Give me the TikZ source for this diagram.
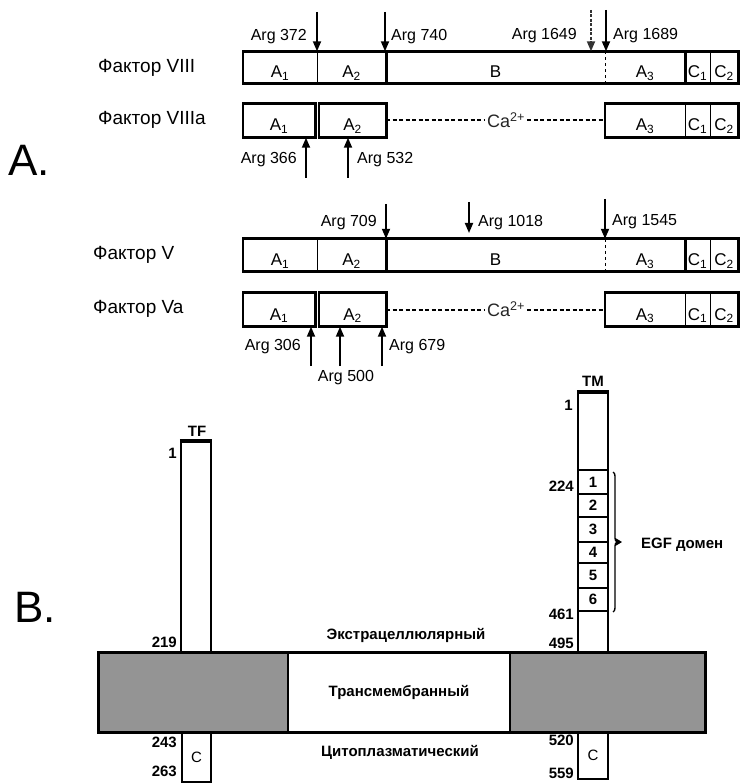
\documentclass[tikz,border=0pt]{standalone}
\usepackage{fontspec}
\setmainfont{Liberation Sans}
\usetikzlibrary{positioning,arrows.meta,fit,decorations.pathreplacing}

\begin{document}
\begin{tikzpicture}[
  x=1pt, y=-1pt,
  every node/.style={font=\fontsize{16}{18}\selectfont, inner sep=1pt},
  fac/.style={anchor=west, font=\fontsize{19}{22}\selectfont},
  big/.style={font=\fontsize{44}{48}\selectfont},
  dom/.style={inner sep=0, minimum height=32pt, text height=21pt, text depth=0pt,
    font=\fontsize{17}{19}\selectfont},
  actdom/.style={dom, minimum height=34pt},
  frame/.style={draw=black, line width=2.6pt, inner sep=0},
  div/.style={line width=1.4pt},
  ca/.style={line width=2pt, dash pattern=on 4pt off 2.5pt},
  arr/.style={-{Triangle[length=10pt,width=8pt]}, line width=1.8pt},
  num/.style={anchor=east, font=\bfseries\fontsize{15}{17}\selectfont},
  memb/.style={font=\bfseries\fontsize{15}{17}\selectfont},
  stalk/.style={draw=black, fill=white, line width=2.2pt, minimum width=30pt, inner sep=0,
    font=\bfseries\fontsize{15}{17}\selectfont},
  lipid/.style={fill=black!42, inner sep=0, minimum height=79pt},
  brc/.style={decorate, decoration={brace, amplitude=4pt}, line width=1.4pt}
]
  \useasboundingbox (0,0) rectangle (739,783);

  % Panel letters
  \node[big] (pa) at (29,160) {A.};
  \node[big] (pb) at (35,607) {B.};

  % Factor names
  \node[fac] (n8) at (97,68) {Фактор VIII};
  \node[fac] (n8a) at (97,120) {Фактор VIIIa};
  \node[fac] (n5) at (92,255) {Фактор V};
  \node[fac] (n5a) at (92,309) {Фактор Va};

  % Native chains (VIII and V)
  \foreach \f/\yc in {8/67.5, 5/255} {
    \foreach \n/\xa/\xb/\t in {a1/243/317/A\textsubscript{1}, a2/317/386/A\textsubscript{2},
        b/386/605/B, a3/605/685/A\textsubscript{3}, c1/685/710/C\textsubscript{1},
        c2/710/738/C\textsubscript{2}}
      \node[dom, minimum width={(\xb-\xa)*1pt}] (f\f\n) at ({(\xa+\xb)/2},\yc) {\t};
    \node[frame, fit=(f\f a1)(f\f c2)] {};
    \foreach \n in {a1,c1} \draw[div] (f\f\n.north east) -- (f\f\n.south east);
    \foreach \n in {a2,a3} \draw[frame] (f\f\n.north east) -- (f\f\n.south east);
    \draw[div, dashed] (f\f b.north east) -- (f\f b.south east);
  }

  % Activated chains (VIIIa and Va)
  \foreach \f/\yc in {8/120.5, 5/309.5} {
    \foreach \n/\xa/\xb/\t in {a1/243/315/A\textsubscript{1}, a2/319/386/A\textsubscript{2},
        a3/605/685/A\textsubscript{3}, c1/685/710/C\textsubscript{1},
        c2/710/738/C\textsubscript{2}}
      \node[actdom, minimum width={(\xb-\xa)*1pt}] (fa\f\n) at ({(\xa+\xb)/2},\yc) {\t};
    \node[frame, fit=(fa\f a1)] {};
    \node[frame, fit=(fa\f a2)] {};
    \node[frame, fit=(fa\f a3)(fa\f c2)] {};
    \foreach \n in {a3,c1} \draw[div] (fa\f\n.north east) -- (fa\f\n.south east);
    \node[fill=white, inner sep=2pt, text=black!85, font=\fontsize{18}{20}\selectfont]
      (ca\f) at (506,\yc) {Ca\textsuperscript{2+}};
    \draw[ca] (fa\f a2.east) -- (ca\f.west);
    \draw[ca] (ca\f.east) -- (fa\f a3.west);
  }

  % Cleavage sites, factor VIII
  \coordinate (t372) at (317,12);
  \coordinate (t740) at (385,12);
  \coordinate (t1649) at (591,10);
  \coordinate (t1689) at (606,10);
  \draw[arr] (t372) -- (t372 |- f8a1.north);
  \draw[arr] (t740) -- (t740 |- f8b.north);
  \draw[arr, black!80, dash pattern=on 3pt off 1.5pt] (t1649) -- (t1649 |- f8b.north);
  \draw[arr] (t1689) -- (t1689 |- f8a3.north);
  \node[anchor=east] (l372) at (308,37) {Arg 372};
  \node[anchor=west] (l740) at (390,37) {Arg 740};
  \node[anchor=east] (l1649) at (578,36) {Arg 1649};
  \node[anchor=west] (l1689) at (612,36) {Arg 1689};

  % Cleavage sites, factor VIIIa
  \coordinate (t366) at (306,178);
  \coordinate (t532) at (348,178);
  \draw[arr] (t366) -- (t366 |- fa8a1.south);
  \draw[arr] (t532) -- (t532 |- fa8a2.south);
  \node[anchor=east] (l366) at (298,160) {Arg 366};
  \node[anchor=west] (l532) at (356,160) {Arg 532};

  % Cleavage sites, factor V
  \coordinate (t709) at (386,204);
  \coordinate (t1018) at (469,202);
  \coordinate (h1018) at (469,233);
  \coordinate (t1545) at (605,199);
  \draw[arr] (t709) -- (t709 |- f5a2.north);
  \draw[arr] (t1018) -- (h1018);
  \draw[arr] (t1545) -- (t1545 |- f5a3.north);
  \node[anchor=east] (l709) at (378,223) {Arg 709};
  \node[anchor=west] (l1018) at (477,223) {Arg 1018};
  \node[anchor=west] (l1545) at (611,222) {Arg 1545};

  % Cleavage sites, factor Va
  \coordinate (t306) at (311,366);
  \coordinate (t500) at (340,366);
  \coordinate (t679) at (382,366);
  \draw[arr] (t306) -- (t306 |- fa5a1.south);
  \draw[arr] (t500) -- (t500 |- fa5a2.south);
  \draw[arr] (t679) -- (t679 |- fa5a2.south);
  \node[anchor=east] (l306) at (302,347) {Arg 306};
  \node (l500) at (346,378) {Arg 500};
  \node[anchor=west] (l679) at (388,347) {Arg 679};

  % TF
  \node[stalk, minimum height=211pt] (tf) at (196,547.5) {};
  \draw[line width=4pt] (tf.north west) -- (tf.north east);
  \node[stalk, minimum width=29pt, minimum height=50pt, font=\fontsize{15}{17}\selectfont] (tfc) at (196.5,757) {C};
  \node[memb] (tfl) at (197,431) {TF};
  \node[num] (tf1) at (178,453) {1};
  \node[num] (tf219) at (178,642) {219};
  \node[num] (tf243) at (178,742) {243};
  \node[num] (tf263) at (178,771) {263};

  % TM with EGF domains
  \node[stalk, minimum height=260pt] (tm) at (593,523) {};
  \draw[line width=4pt] (tm.north west) -- (tm.north east);
  \foreach \i/\ya/\yb in {1/470/494, 2/494/517, 3/517/542, 4/542/563, 5/563/588, 6/588/611}
    \node[stalk, minimum height={(\yb-\ya)*1pt}] (e\i) at (593,{(\ya+\yb)/2}) {\i};
  \node[stalk, minimum height=47pt, font=\fontsize{15}{17}\selectfont] (tmc) at (593,755.5) {C};
  \node[memb] (tml) at (593,381) {TM};
  \node[num] (tm1) at (574,405) {1};
  \node[num] (tm224) at (575,486) {224};
  \node[num] (tm461) at (575,614) {461};
  \node[num] (tm495) at (575,643) {495};
  \node[num] (tm520) at (575,740) {520};
  \node[num] (tm559) at (575,773) {559};

  % EGF brace
  \coordinate (bt) at (613,472);
  \coordinate (bb) at (613,612);
  \coordinate (bp) at (617,542);
  \coordinate (bq) at (622,542);
  \draw[brc] (bt) -- (bb);
  \draw[-{Triangle[length=6pt,width=7pt]}, line width=1pt] (bp) -- (bq);
  \node[memb, anchor=west] (egf) at (640,545) {EGF домен};

  % Membrane
  \node[lipid, minimum width=189pt] (mL) at (193.5,692.5) {};
  \node[inner sep=0, minimum width=222pt, minimum height=79pt, memb] (mM) at (399,692.5) {Трансмембранный};
  \node[lipid, minimum width=195pt] (mR) at (607.5,692.5) {};
  \node[frame, line width=3pt, fit=(mL)(mR)] (memb) {};
  \draw[line width=2pt] (mL.north east) -- (mL.south east);
  \draw[line width=2pt] (mM.north east) -- (mM.south east);
  \node[memb] (extra) at (406,635) {Экстрацеллюлярный};
  \node[memb] (cyto) at (400,752) {Цитоплазматический};
\end{tikzpicture}
\end{document}
